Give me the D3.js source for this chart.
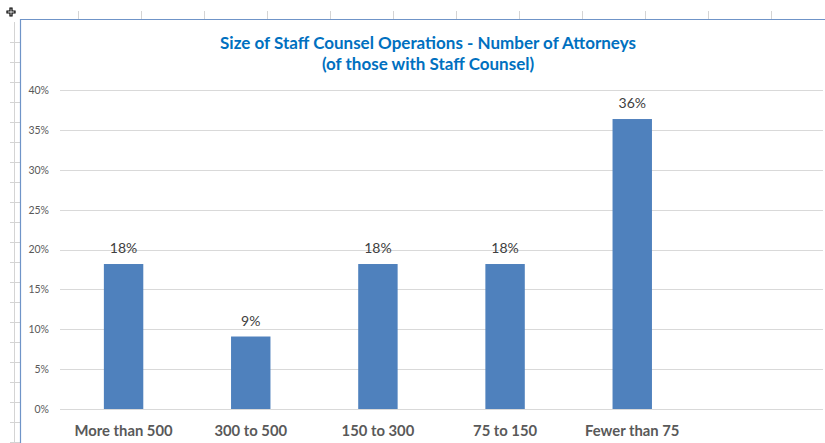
<!DOCTYPE html>
<html>
<head>
<meta charset="utf-8">
<script src="https://cdn.jsdelivr.net/npm/d3@7"></script>
<style>
  body { margin: 0; background: #fff; }
  svg  { display: block; }
</style>
</head>
<body>
<div id="chart"></div>
<script>
const WIDTH  = 825
const HEIGHT = 443

// data (share of those with staff counsel)
const categories = ['More than 500', '300 to 500', '150 to 300', '75 to 150', 'Fewer than 75', '']
const values     = [18.18, 9.09, 18.18, 18.18, 36.36, null]
const yTicks     = [0, 5, 10, 15, 20, 25, 30, 35, 40]
const titleLines = ['Size of Staff Counsel Operations - Number of Attorneys', '(of those with Staff Counsel)']

const margin = { top: 90, right: 2, bottom: 34, left: 60 }

const svg = d3.select('#chart').append('svg')
    .attr('width', WIDTH)
    .attr('height', HEIGHT)
    .style('font-family', 'Lato, "Open Sans", sans-serif')

// spreadsheet background: column ticks on top, row ticks on the left
const sheet = svg.append('g').attr('stroke', '#d4d4d4').attr('stroke-width', 1)
d3.range(78, WIDTH, 63).forEach(x => {
    sheet.append('line').attr('x1', x + 0.5).attr('x2', x + 0.5).attr('y1', 11).attr('y2', 19)
})
d3.range(42.5, HEIGHT, 20).forEach(y => {
    sheet.append('line').attr('x1', 10).attr('x2', 20).attr('y1', y).attr('y2', y)
})
sheet.append('line').attr('x1', 14.5).attr('x2', 14.5).attr('y1', 22).attr('y2', HEIGHT)

// chart frame (selected chart in Excel)
svg.append('path')
    .attr('d', `M20.5,${HEIGHT} V19.5 H${WIDTH}`)
    .attr('fill', 'none')
    .attr('stroke', '#6f94c8')
    .attr('stroke-width', 1.2)

// little move cursor in the corner
svg.append('path')
    .attr('d', 'M14,9 h-3 v-3 h-2 v3 h-3 v2 h3 v3 h2 v-3 h3 z')
    .attr('transform', 'translate(1,2)')
    .attr('fill', '#fff')
    .attr('stroke', '#000')
    .attr('stroke-width', 1.2)

const x = d3.scaleBand()
    .domain(categories.map((c, i) => i))
    .range([margin.left, WIDTH - margin.right])
    .paddingInner(0.69)
    .paddingOuter(0.345)

const y = d3.scaleLinear()
    .domain([0, 40])
    .range([HEIGHT - margin.bottom, margin.top])

// gridlines + y labels
const yAxis = svg.append('g')
    .attr('transform', `translate(${margin.left},0)`)
    .call(d3.axisLeft(y).tickValues(yTicks).tickFormat(d => d + '%')
        .tickSize(-(WIDTH - margin.right - margin.left)).tickPadding(11))

yAxis.select('.domain').remove()
yAxis.selectAll('.tick line').attr('stroke', '#d9d9d9').attr('shape-rendering', 'crispEdges')
yAxis.selectAll('.tick text')
    .attr('fill', '#595959')
    .style('font-size', '10.5px')
    .style('font-family', 'Lato, sans-serif')

const data = categories.map((c, i) => ({ i, c, v: values[i] }))

svg.append('g').selectAll('rect')
    .data(data.filter(d => d.v != null))
    .join('rect')
    .attr('x', d => x(d.i))
    .attr('y', d => y(d.v))
    .attr('width', x.bandwidth())
    .attr('height', d => y(0) - y(d.v))
    .attr('fill', '#4f81bd')

svg.append('g').selectAll('text')
    .data(data.filter(d => d.v != null))
    .join('text')
    .attr('x', d => x(d.i) + x.bandwidth() / 2)
    .attr('y', d => y(d.v) - 11)
    .attr('text-anchor', 'middle')
    .attr('fill', '#404040')
    .style('font-size', '14px')
    .text(d => Math.round(d.v) + '%')

// category labels
svg.append('g').selectAll('text')
    .data(data)
    .join('text')
    .attr('x', d => x(d.i) + x.bandwidth() / 2)
    .attr('y', HEIGHT - 7)
    .attr('text-anchor', 'middle')
    .attr('fill', '#595959')
    .style('font-size', '14.8px')
    .style('font-weight', 'bold')
    .text(d => d.c)

// title
svg.append('g').selectAll('text')
    .data(titleLines)
    .join('text')
    .attr('x', 428)
    .attr('y', (d, i) => 49 + i * 21)
    .attr('text-anchor', 'middle')
    .attr('fill', '#0070c0')
    .style('font-size', '17px')
    .style('font-weight', 'bold')
    .text(d => d)
</script>
</body>
</html>
